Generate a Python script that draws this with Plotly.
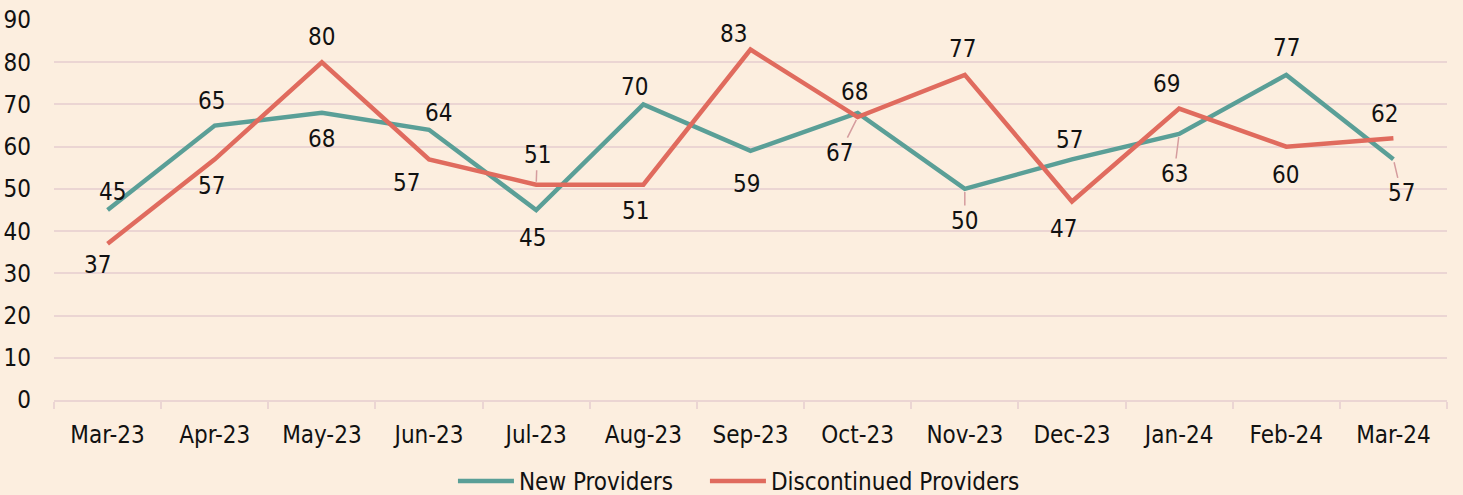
import plotly.graph_objects as go

months = ["Mar-23", "Apr-23", "May-23", "Jun-23", "Jul-23", "Aug-23", "Sep-23",
          "Oct-23", "Nov-23", "Dec-23", "Jan-24", "Feb-24", "Mar-24"]
new_providers = [45, 65, 68, 64, 45, 70, 59, 68, 50, 57, 63, 77, 57]
discontinued_providers = [37, 57, 80, 57, 51, 51, 83, 67, 77, 47, 69, 60, 62]
y_ticks = [0, 10, 20, 30, 40, 50, 60, 70, 80, 90]

# label offsets in px (dx, dy downward) and leader flags
new_offsets = [(5, -18), (-3, -25), (0, 26), (9, -17), (-4, 28), (-9, -17), (-4, 33),
               (-3, -21), (0, 32), (-2, -19), (-5, 40), (0, -27), (8, 34)]
new_leader = [False, False, False, False, False, False, False, False, True, False, True, False, True]
dis_offsets = [(-10, 21), (-3, 27), (0, -25), (-23, 24), (1, -30), (-8, 26), (-17, -16),
               (-18, 36), (-2, -26), (-8, 27), (-13, -25), (-1, 28), (-9, -24)]
dis_leader = [False, False, False, False, True, False, False, True, False, False, False, False, False]

TEAL = "#5A9F97"
RED = "#E06B5E"
BG = "#FCEEDF"
GRID = "#EBD5D3"
LEADER = "#D59C9E"
FONT = "DejaVu Sans Condensed, DejaVu Sans, sans-serif"
FS = 24

fig = go.Figure()
fig.add_trace(go.Scatter(x=months, y=new_providers, mode="lines", name="New Providers",
                         line=dict(color=TEAL, width=4.5), legend="legend"))
fig.add_trace(go.Scatter(x=months, y=discontinued_providers, mode="lines", name="Discontinued Providers",
                         line=dict(color=RED, width=4.5), legend="legend2"))

annotations = []
for vals, offs, leads in [(new_providers, new_offsets, new_leader),
                          (discontinued_providers, dis_offsets, dis_leader)]:
    for m, v, (dx, dy), lead in zip(months, vals, offs, leads):
        if lead:
            annotations.append(dict(x=m, y=v, xref="x", yref="y", text=str(v),
                                    showarrow=True, ax=dx, ay=dy, arrowhead=0,
                                    arrowwidth=1.5, arrowcolor=LEADER, standoff=3,
                                    font=dict(family=FONT, size=FS, color="#111111")))
        else:
            annotations.append(dict(x=m, y=v, xref="x", yref="y", text=str(v),
                                    showarrow=False, xshift=dx, yshift=-dy,
                                    font=dict(family=FONT, size=FS, color="#111111")))

legend_style = dict(orientation="h", xanchor="left", y=-0.155, yanchor="top",
                    font=dict(family=FONT, size=FS, color="#111111"),
                    bgcolor="rgba(0,0,0,0)", itemwidth=56)

fig.update_layout(
    width=1463, height=495,
    margin=dict(l=54, r=16, t=20, b=95, autoexpand=False),
    paper_bgcolor=BG, plot_bgcolor=BG,
    font=dict(family=FONT, size=FS, color="#111111"),
    showlegend=True,
    legend=dict(x=0.2864, **legend_style),
    legend2=dict(x=0.4673, **legend_style),
    annotations=annotations,
    xaxis=dict(type="category", range=[-0.5, 12.5], showgrid=False, showline=True,
               linecolor=GRID, linewidth=2, ticks="outside", tickson="boundaries",
               ticklen=7, tickcolor=GRID, tickwidth=2, ticklabelstandoff=12,
               automargin=False,
               tickfont=dict(family=FONT, size=FS, color="#111111"), fixedrange=True),
    yaxis=dict(range=[0, 90], tickvals=y_ticks, showgrid=True, gridcolor=GRID, gridwidth=2,
               zeroline=False, showline=False, ticks="", ticklabelstandoff=22,
               automargin=False,
               tickfont=dict(family=FONT, size=FS, color="#111111"), fixedrange=True),
)

fig.write_html("out.html")
